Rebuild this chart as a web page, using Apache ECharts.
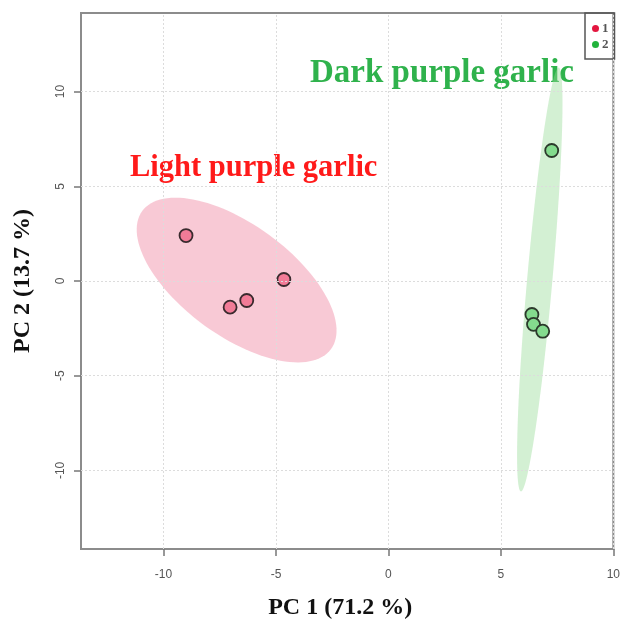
<!DOCTYPE html>
<html>
<head>
<meta charset="utf-8">
<script src="https://cdn.jsdelivr.net/npm/echarts@6/dist/echarts.min.js"></script>
<style>
  html, body { margin: 0; padding: 0; background: #fff; }
  #chart { width: 623px; height: 629px; }
</style>
</head>
<body>
<div id="chart"></div>
<script>
// PCA score plot: PC1 vs PC2 for two garlic groups
var groupNames = ['1', '2'];
var groupLabels = ['Light purple garlic', 'Dark purple garlic'];

// scores [PC1, PC2]
var lightPC1 = [-9.0, -4.65, -6.30, -7.04];
var lightPC2 = [2.40, 0.08, -1.03, -1.38];
var darkPC1 = [7.26, 6.38, 6.45, 6.86];
var darkPC2 = [6.89, -1.77, -2.29, -2.65];

// 95% ellipses: centre and two conjugate semi-axis vectors (PC units)
var ellipseCenters = [[-6.75, 0.05], [6.73, 0.08]];
var ellipseAxisA = [[4.20, -3.64], [0.84, 11.19]];
var ellipseAxisB = [[-1.45, -2.38], [0.56, -0.06]];

var tickValues = [-10, -5, 0, 5, 10];

var pointFill = ['#f27b97', '#84db8e'];
var ellipseFill = ['rgba(240,135,162,0.45)', 'rgba(150,220,150,0.42)'];
var legendDot = ['#e3163f', '#22b33c'];
var labelColor = ['#ff1a1a', '#2fb24c'];

function zip(a, b) { return a.map(function (v, i) { return [v, b[i]]; }); }

var chart = echarts.init(document.getElementById('chart'));

var serifBold = { fontFamily: 'Liberation Serif', fontWeight: 'bold' };

chart.setOption({
  animation: false,
  grid: {
    left: 81, top: 13, width: 534, height: 536,
    show: true, borderColor: '#8c8c8c', borderWidth: 2, backgroundColor: 'transparent'
  },
  legend: {
    orient: 'vertical', left: 585, top: 13,
    padding: [9, 6, 8, 7], itemGap: 3,
    itemWidth: 7, itemHeight: 7, icon: 'circle',
    borderColor: '#555', borderWidth: 1.5, borderRadius: 0,
    textStyle: { fontFamily: 'Liberation Serif', fontWeight: 'bold', fontSize: 13, color: '#555', lineHeight: 13, padding: [0, 0, 0, -2] },
    data: groupNames.map(function (n, i) {
      return { name: n, itemStyle: { color: legendDot[i], borderWidth: 0 } };
    })
  },
  xAxis: {
    type: 'value', min: -13.67, max: 10,
    name: 'PC 1 (71.2 %)', nameLocation: 'middle', nameGap: 47,
    nameTextStyle: Object.assign({ fontSize: 24, color: '#111', padding: [0, 14, 0, 0] }, serifBold),
    axisLine: { show: false, onZero: false },
    axisTick: { show: true, customValues: tickValues, length: 7, lineStyle: { color: '#777', width: 1.5 } },
    axisLabel: { customValues: tickValues, margin: 20, fontSize: 12, color: '#555', fontFamily: 'Liberation Sans' },
    splitLine: { show: false }
  },
  yAxis: {
    type: 'value', min: -14.15, max: 14.15,
    name: 'PC 2 (13.7 %)', nameLocation: 'middle', nameGap: 46, nameRotate: 90,
    nameTextStyle: Object.assign({ fontSize: 24, color: '#111' }, serifBold),
    axisLine: { show: false, onZero: false },
    axisTick: { show: true, customValues: tickValues, length: 7, lineStyle: { color: '#777', width: 1.5 } },
    axisLabel: { customValues: tickValues, rotate: 90, margin: 14, fontSize: 12, color: '#555', fontFamily: 'Liberation Sans' },
    splitLine: { show: false }
  },
  series: [
    {
      // dotted reference grid at the tick values
      type: 'line', data: [], silent: true,
      markLine: {
        silent: true, symbol: 'none', label: { show: false },
        lineStyle: { color: '#dcdcdc', type: [2, 2], width: 1 },
        data: tickValues.map(function (v) { return { xAxis: v }; })
          .concat(tickValues.map(function (v) { return { yAxis: v }; }))
      }
    },
    {
      type: 'custom', silent: true, z: 1,
      data: [0, 1],
      renderItem: function (params, api) {
        var k = params.dataIndex;
        var c = ellipseCenters[k], a = ellipseAxisA[k], b = ellipseAxisB[k];
        var pts = [];
        for (var i = 0; i < 120; i++) {
          var t = i / 120 * Math.PI * 2;
          pts.push(api.coord([
            c[0] + Math.cos(t) * a[0] + Math.sin(t) * b[0],
            c[1] + Math.cos(t) * a[1] + Math.sin(t) * b[1]
          ]));
        }
        return { type: 'polygon', shape: { points: pts }, style: { fill: ellipseFill[k] } };
      }
    },
    {
      name: groupNames[0], type: 'scatter', z: 3,
      data: zip(lightPC1, lightPC2), symbolSize: 13,
      itemStyle: { color: pointFill[0], borderColor: '#3a2a2e', borderWidth: 1.8, opacity: 1 }
    },
    {
      name: groupNames[1], type: 'scatter', z: 3,
      data: zip(darkPC1, darkPC2), symbolSize: 13,
      itemStyle: { color: pointFill[1], borderColor: '#2c3a2c', borderWidth: 1.8, opacity: 1 }
    }
  ],
  graphic: [
    {
      type: 'text', left: 130, top: 153,
      style: Object.assign({ text: groupLabels[0], fill: labelColor[0], fontSize: 30.5 }, serifBold)
    },
    {
      type: 'text', left: 310, top: 57,
      style: Object.assign({ text: groupLabels[1], fill: labelColor[1], fontSize: 33 }, serifBold)
    }
  ]
});
</script>
</body>
</html>
